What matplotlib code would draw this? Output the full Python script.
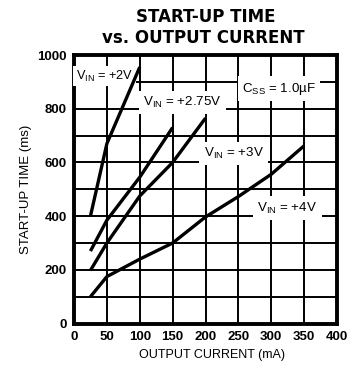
import matplotlib
matplotlib.use("Agg")
import matplotlib.pyplot as plt
from matplotlib import font_manager

# ---- data ----
x_2v = [25, 50, 100]
y_2v = [400, 670, 955]
x_275v = [25, 50, 100, 150]
y_275v = [270, 385, 545, 730]
x_3v = [25, 50, 100, 150, 200]
y_3v = [198, 300, 475, 600, 765]
x_4v = [25, 50, 100, 150, 200, 250, 300, 350]
y_4v = [100, 175, 240, 300, 397, 473, 556, 662]

x_ticks = [0, 50, 100, 150, 200, 250, 300, 350, 400]
y_ticks = [0, 200, 400, 600, 800, 1000]
y_grid = [0, 100, 200, 300, 400, 500, 600, 700, 800, 900, 1000]

names = {f.name for f in font_manager.fontManager.ttflist}
fam = ['Liberation Sans Narrow'] if 'Liberation Sans Narrow' in names else ['Liberation Sans']
plt.rcParams['font.family'] = fam + ['DejaVu Sans']
plt.rcParams['mathtext.fontset'] = 'custom'
plt.rcParams['mathtext.rm'] = fam[0]

fig = plt.figure(figsize=(3.55, 3.65), dpi=100)
ax = fig.add_axes([74/355, 1-323.6/365, (337-74)/355, (323.6-55)/365])

ax.set_xlim(0, 400)
ax.set_ylim(0, 1000)
ax.set_xticks(x_ticks)
ax.set_yticks(y_ticks)
ax.set_yticks(y_grid, minor=True)
ax.tick_params(which='both', length=0, labelsize=9.5)
ax.tick_params(axis='x', pad=5)
ax.tick_params(axis='y', pad=5)
for lab in ax.get_xticklabels() + ax.get_yticklabels():
    lab.set_fontweight('bold')
ax.grid(True, which='both', color='black', linewidth=1.4)
ax.set_axisbelow(True)
for s in ax.spines.values():
    s.set_linewidth(2.8)

lw = 2.4
for xs, ys in [(x_2v, y_2v), (x_275v, y_275v), (x_3v, y_3v), (x_4v, y_4v)]:
    ax.plot(xs, ys, color='black', lw=lw, solid_capstyle='butt', zorder=5)

bbox = dict(facecolor='white', edgecolor='none', pad=3)
fs = 9.6
ax.text(3, 922, r'V$_{\mathregular{IN}}$ = +2V', fontsize=9.2, ha='left', va='center', bbox=dict(facecolor='white', edgecolor='none', pad=2), zorder=4)
ax.text(105, 823, r'V$_{\mathregular{IN}}$ = +2.75V', fontsize=fs, ha='left', va='center', bbox=bbox, zorder=4)
ax.text(256, 875, r'C$_{\mathregular{SS}}$ = 1.0µF', fontsize=fs, ha='left', va='center', bbox=bbox, zorder=4)
ax.text(197, 634, r'V$_{\mathregular{IN}}$ = +3V', fontsize=fs, ha='left', va='center', bbox=bbox, zorder=4)
ax.text(279, 430, r'V$_{\mathregular{IN}}$ = +4V', fontsize=fs, ha='left', va='center', bbox=bbox, zorder=4)

ax.set_xlabel('OUTPUT CURRENT (mA)', fontsize=9, labelpad=5)
ax.xaxis.set_label_coords((212-74)/(337-74), -0.095)
ax.set_ylabel('START-UP TIME (ms)', fontsize=9.5, labelpad=4)

fig.text(206/355, 1-17/365, 'START-UP TIME', ha='center', va='center',
         fontsize=12, fontweight='bold', family=['DejaVu Sans'])
fig.text(203/355, 1-38/365, 'vs. OUTPUT CURRENT', ha='center', va='center',
         fontsize=12, fontweight='bold', family=['DejaVu Sans'])

fig.savefig('out.png', dpi=100)
